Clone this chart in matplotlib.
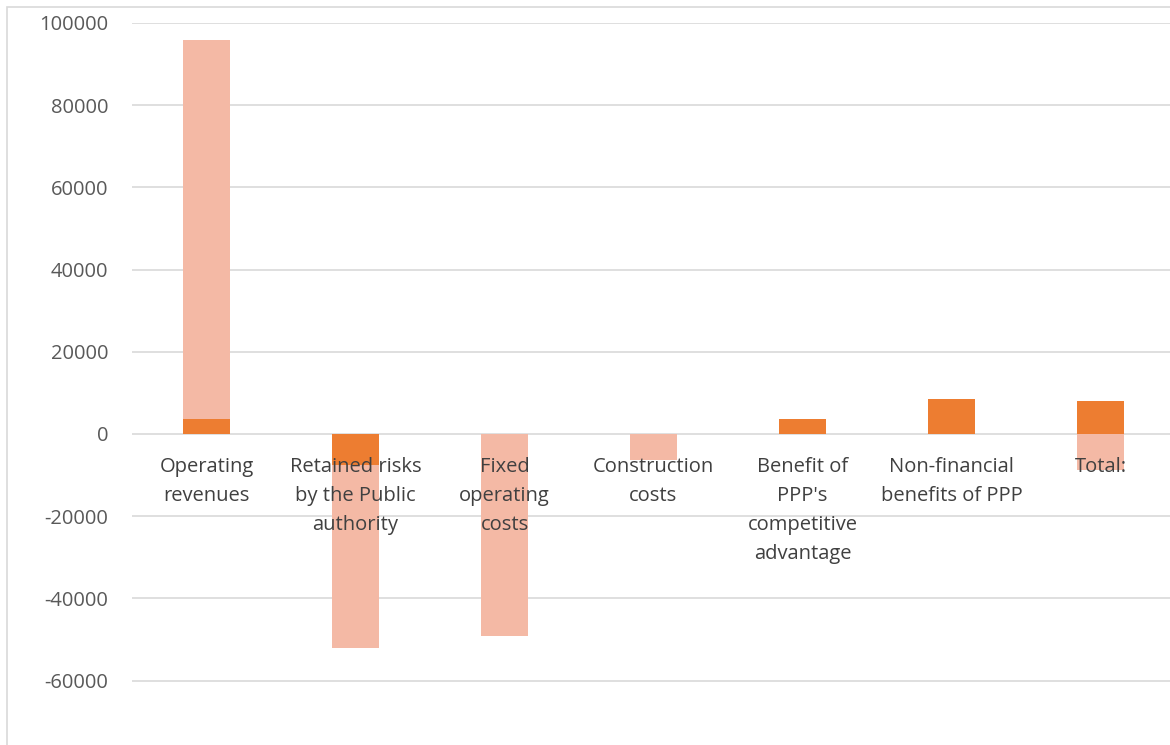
import matplotlib
matplotlib.use("Agg")
import matplotlib.pyplot as plt
from matplotlib.patches import Rectangle

categories = ["Operating\nrevenues", "Retained risks\nby the Public\nauthority", "Fixed\noperating\ncosts",
              "Construction\ncosts", "Benefit of\nPPP's\ncompetitive\nadvantage", "Non-financial\nbenefits of PPP",
              "Total:"]
light_values = [95900, -52100, -49100, -6300, 0, 0, -8800]
dark_values = [3600, -7500, 0, 0, 3600, 8400, 8000]
yticks = [-60000, -40000, -20000, 0, 20000, 40000, 60000, 80000, 100000]

plt.rcParams['font.family'] = ['Open Sans', 'DejaVu Sans']

fig = plt.figure(figsize=(11.7, 7.45), dpi=100)
W, H = 1170, 745
ax = fig.add_axes([132 / W, 1 - 762.8 / H, 1043 / W, (762.8 - 23) / H])

x = list(range(len(categories)))
bw = 0.315
ax.bar(x, light_values, width=bw, color="#F4B9A5", zorder=2)
ax.bar(x, dark_values, width=bw, color="#ED7D31", zorder=3)

ax.set_xlim(-0.5, len(categories) - 0.5)
ax.set_ylim(-80000, 100000)
ax.set_yticks(yticks)
ax.set_yticklabels([str(v) for v in yticks], fontsize=14.5, color="#595959")
ax.yaxis.grid(True, color="#d9d9d9", linewidth=1.2, zorder=0)
ax.set_axisbelow(True)
ax.set_xticks([])
for s in ['top', 'right', 'left', 'bottom']:
    ax.spines[s].set_visible(False)
ax.tick_params(axis='y', length=0, pad=17)

for xi, lab in zip(x, categories):
    ax.annotate(lab, xy=(xi, 0), xytext=(0, -23), textcoords='offset pixels',
                ha='center', va='top', fontsize=14.5, color="#404040",
                linespacing=1.6, zorder=5, annotation_clip=False)

fig.patches.append(Rectangle((7 / W, -0.1), 1.2, 1 - 7 / H + 0.1, transform=fig.transFigure,
                             fill=False, edgecolor="#d9d9d9", linewidth=1.2))

fig.savefig("out.png", dpi=100)
